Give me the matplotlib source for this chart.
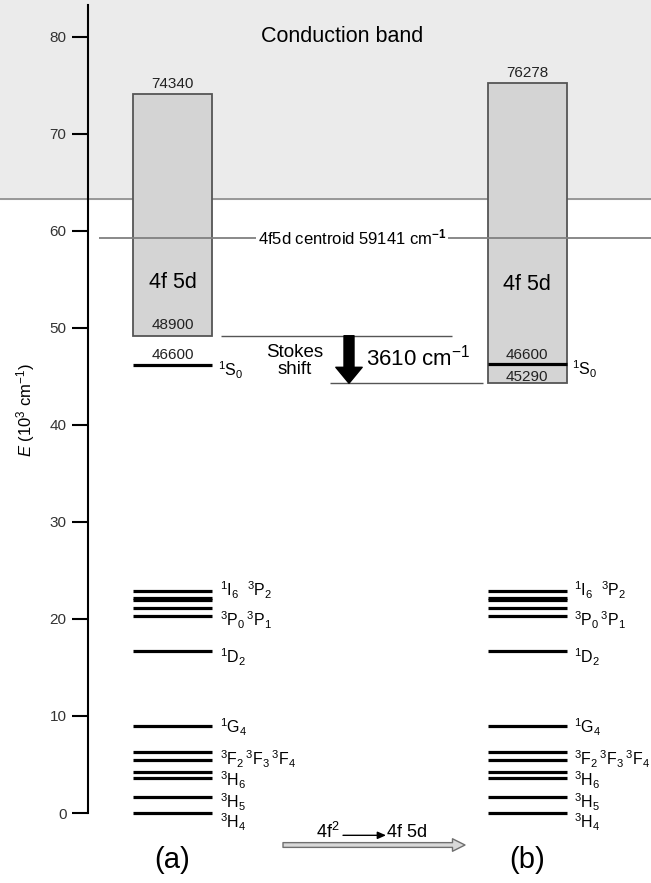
import matplotlib
matplotlib.use('Agg')
import matplotlib.pyplot as plt

plt.rcParams['font.family'] = ['Liberation Sans', 'DejaVu Sans']
plt.rcParams['mathtext.fontset'] = 'custom'
plt.rcParams['mathtext.rm'] = 'Liberation Sans'
plt.rcParams['mathtext.it'] = 'Liberation Sans:italic'
plt.rcParams['mathtext.bf'] = 'Liberation Sans:bold'

# energies in 10^3 cm-1
levels = [0.0, 1.62, 3.64, 4.26, 5.46, 6.26, 9.0, 16.7, 20.3, 21.1, 21.95, 22.15, 22.9]
level_names = [r'$^3\mathrm{H}_4$', r'$^3\mathrm{H}_5$', r'$^3\mathrm{H}_6$',
               r'$^3\mathrm{F}_2\,^3\mathrm{F}_3\,^3\mathrm{F}_4$', r'$^1\mathrm{G}_4$',
               r'$^1\mathrm{D}_2$', r'$^3\mathrm{P}_0\,^3\mathrm{P}_1$',
               r'$^1\mathrm{I}_6\ \ ^3\mathrm{P}_2$']
name_E = [-1.0, 1.1, 3.4, 5.5, 8.8, 16.1, 19.9, 23.0]

panels = ['(a)', '(b)']
box_bottom = [49.2, 44.3]
box_top = [74.1, 75.3]
top_text = ['74340', '76278']
s0 = [46.2, 46.3]
centroid = 59.3
cband = 63.3
stokes = '3610'

fig = plt.figure(figsize=(6.51, 8.83), dpi=100)
ax = fig.add_axes([0, 0, 1, 1])
ax.set_xlim(0, 651)
ax.set_ylim(-7.216, 83.81)
ax.patch.set_alpha(0)

for s in ['top', 'right', 'bottom']:
    ax.spines[s].set_visible(False)
ax.spines['left'].set_position(('data', 88))
ax.spines['left'].set_bounds(0, 83.3)
ax.spines['left'].set_linewidth(1.5)
ax.set_xticks([])
ax.set_yticks(range(0, 90, 10))
ax.tick_params(axis='y', direction='out', length=11.5, width=1.5, pad=4,
               labelsize=11, labelcolor='#333333')
ax.text(26, 41.5, r'$E$ (10$^3$ cm$^{-1}$)', rotation=90, ha='center', va='center',
        fontsize=12)

# conduction band
ax.axhspan(cband, 90, color='#ebebeb', zorder=0)
ax.axhline(cband, color='#808080', lw=1.1, zorder=1)
ax.text(342, 80.0, 'Conduction band', ha='center', va='center', fontsize=15.5)

cx = [172.5, 527]
w = 79
ax.bar(cx, [t - b for t, b in zip(box_top, box_bottom)], bottom=box_bottom, width=w,
       color='#d4d4d4', edgecolor='#555555', linewidth=1.3, zorder=2)

for i in range(2):
    ax.hlines(levels, cx[i] - w / 2, cx[i] + w / 2, color='black', lw=2.3, zorder=3)
    ax.hlines(s0[i], cx[i] - w / 2, cx[i] + w / 2, color='black', lw=2.3, zorder=3)
    for name, e in zip(level_names, name_E):
        ax.text(cx[i] + w / 2 + 8, e, name, ha='left', va='center', fontsize=11.5)
    ax.text(cx[i] + w / 2 + 6, s0[i] - 0.6, r'$^1\mathrm{S}_0$', ha='left', va='center',
            fontsize=11.5)
    ax.text(cx[i], box_top[i] + 0.3, top_text[i], ha='center', va='bottom', fontsize=11,
            color='#222222')
    ax.text(cx[i], 54.7 - i * 0.2, '4f 5d', ha='center', va='center', fontsize=15.5)
    ax.text(cx[i], -4.8, panels[i], ha='center', va='center', fontsize=21)

ax.text(cx[0], box_bottom[0] + 1.1, '48900', ha='center', va='center', fontsize=11,
        color='#222222')
ax.text(cx[0], 47.2, '46600', ha='center', va='center', fontsize=11, color='#222222')
ax.text(cx[1], 47.2, '46600', ha='center', va='center', fontsize=11, color='#222222')
ax.text(cx[1], 44.95, '45290', ha='center', va='center', fontsize=11, color='#222222')

# centroid
ax.hlines(centroid, 99, 651, color='#808080', lw=1.3, zorder=4)
ax.text(352, centroid, r'4f5d centroid 59141 cm$^{\mathbf{-1}}$', ha='center', va='center',
        fontsize=12, zorder=5,
        bbox=dict(facecolor='white', edgecolor='none', pad=1.5))

# Stokes shift
ax.hlines(box_bottom[0], 221, 452, color='#555555', lw=1.0, zorder=3)
ax.hlines(box_bottom[1], 330, 483, color='#555555', lw=1.0, zorder=3)
ax.annotate('', xy=(349, box_bottom[1]), xytext=(349, box_bottom[0]),
            arrowprops=dict(arrowstyle='simple,head_length=1.15,head_width=1.9,tail_width=0.72',
                            mutation_scale=10, color='black', shrinkA=0, shrinkB=0))
ax.text(295, 46.6, 'Stokes\nshift', ha='center', va='center', fontsize=13.5,
        linespacing=1.05)
ax.text(366, 46.9, stokes + r' cm$^{-1}$', ha='left', va='center', fontsize=16)

# 4f2 -> 4f5d
ax.annotate('', xy=(465, -3.3), xytext=(283, -3.3),
            arrowprops=dict(arrowstyle='simple,head_length=1.0,head_width=1.0,tail_width=0.38',
                            mutation_scale=9, facecolor='#d9d9d9', edgecolor='#707070',
                            lw=1.0, shrinkA=0, shrinkB=0))
ax.text(316, -2.0, r'4f$^2$', ha='left', va='center', fontsize=13)
ax.annotate('', xy=(386, -2.3), xytext=(343, -2.3),
            arrowprops=dict(arrowstyle='-|>,head_length=0.5,head_width=0.22', color='black',
                            lw=1.0, shrinkA=0, shrinkB=0))
ax.text(387, -2.0, '4f 5d', ha='left', va='center', fontsize=13)

fig.savefig('out.png', dpi=100)
